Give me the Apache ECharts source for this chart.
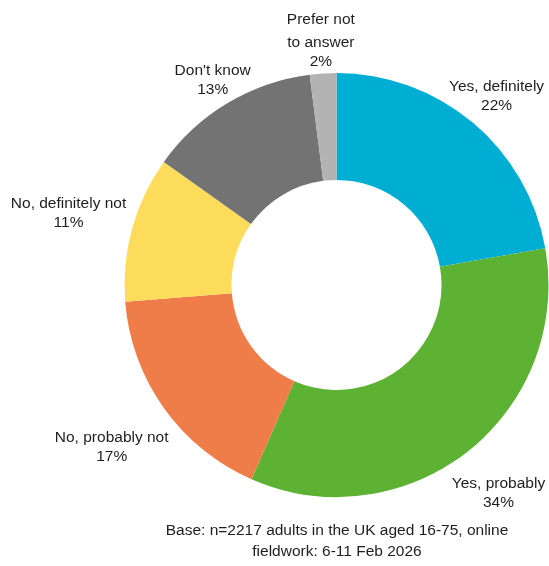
<!DOCTYPE html>
<html>
<head>
<meta charset="utf-8">
<script src="https://cdn.jsdelivr.net/npm/echarts@6/dist/echarts.min.js"></script>
<style>
  html, body { margin: 0; padding: 0; background: #ffffff; }
  #chart { width: 549px; height: 566px; }
</style>
</head>
<body>
<div id="chart"></div>
<script>
// Survey answers, clockwise from 12 o'clock
const categories = ['Yes, definitely', 'Yes, probably', 'No, probably not', 'No, definitely not', "Don't know", 'Prefer not\nto answer'];
const shares = [22, 34, 17, 11, 13, 2];
const colors = ['#00aed3', '#5db133', '#ef7d4a', '#fedc5b', '#737373', '#b3b3b3'];
// distance of each label's centre from the ring centre, px
const labelDistance = [249, 262, 276, 278, 241, 247];
const footnote = 'Base: n=2217 adults in the UK aged 16-75, online\nfieldwork: 6-11 Feb 2026';

const CX = 336.5, CY = 285, R_IN = 105, R_OUT = 212;
const FONT = '"Liberation Sans", Arial, sans-serif';
const FS = 15.5;

const total = shares.reduce((a, b) => a + b, 0);
// mid-angle of each slice, degrees clockwise from the top
const midAngles = [];
let acc = 0;
shares.forEach(v => { midAngles.push((acc + v / 2) / total * 360); acc += v; });

const chart = echarts.init(document.getElementById('chart'), null, { renderer: 'canvas' });
chart.setOption({
  animation: false,
  backgroundColor: '#ffffff',
  textStyle: { fontFamily: FONT },
  series: [{
    type: 'pie',
    center: [CX, CY],
    radius: [R_IN, R_OUT],
    startAngle: 90,
    clockwise: true,
    avoidLabelOverlap: false,
    silent: true,
    itemStyle: { borderWidth: 0 },
    labelLine: { show: false },
    label: {
      show: true,
      position: 'outside',
      color: '#1e1e1e',
      fontFamily: FONT,
      fontSize: FS,
      align: 'center',
      formatter: p => p.name.split('\n').map(s => '{n|' + s + '}').join('\n') + '\n{v|' + p.value + '%}',
      rich: {
        n: { fontFamily: FONT, fontSize: FS, color: '#1e1e1e', lineHeight: 23, align: 'center' },
        v: { fontFamily: FONT, fontSize: FS, color: '#1e1e1e', lineHeight: 15, align: 'center' }
      }
    },
    labelLayout: p => {
      const a = midAngles[p.dataIndex] * Math.PI / 180;
      const d = labelDistance[p.dataIndex];
      return {
        x: CX + d * Math.sin(a),
        y: CY - d * Math.cos(a),
        align: 'center',
        verticalAlign: 'middle'
      };
    },
    data: categories.map((name, i) => ({ name, value: shares[i], itemStyle: { color: colors[i] } }))
  }],
  graphic: [{
    type: 'text',
    x: 337,
    y: 541,
    style: {
      text: footnote,
      fontFamily: FONT,
      fontSize: FS,
      lineHeight: 21,
      fill: '#1e1e1e',
      align: 'center',
      verticalAlign: 'middle'
    }
  }]
});
</script>
</body>
</html>
